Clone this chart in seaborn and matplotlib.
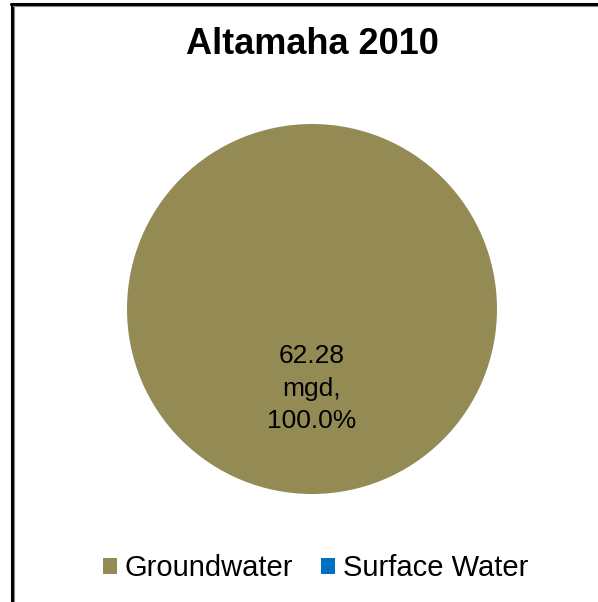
import matplotlib
matplotlib.use("Agg")
import matplotlib.pyplot as plt
from matplotlib.lines import Line2D
from matplotlib.patches import Patch
import seaborn as sns

sns.set_theme(style="white")
plt.rcParams["font.family"] = ["Liberation Sans", "DejaVu Sans"]
plt.rcParams["text.color"] = "black"

title = "Altamaha 2010"
categories = ["Groundwater", "Surface Water"]
values_mgd = [62.28, 0.0]
colors = ["#948A54", "#0070C0"]

fig = plt.figure(figsize=(5.98, 6.02), dpi=100)
fig.patch.set_facecolor("white")

# pie area
ax = fig.add_axes([127 / 598, 1 - 494 / 602, 370 / 598, 370 / 602])
total = sum(values_mgd)


def fmt(pct):
    val = pct * total / 100.0
    return f"{val:.2f}\nmgd,\n{pct:.1f}%"


wedges, texts, autotexts = ax.pie(
    values_mgd,
    colors=colors,
    startangle=90,
    counterclock=False,
    autopct=lambda p: fmt(p) if p > 0 else "",
    pctdistance=0.43,
    wedgeprops=dict(linewidth=0),
    textprops=dict(fontsize=19, color="black", linespacing=1.45),
)
ax.set_aspect("equal")
ax.set_xlim(-1, 1)
ax.set_ylim(-1, 1)

fig.text(312 / 598, 1 - 45 / 602, title, ha="center", va="center",
         fontsize=26, fontweight="bold", color="black")

handles = [Patch(facecolor=c, edgecolor="none") for c in colors]
leg = fig.legend(handles, categories, loc="center", bbox_to_anchor=(315.5 / 598, 1 - 568 / 602),
                 ncol=2, frameon=False, fontsize=21, handlelength=0.48, handleheight=0.48,
                 handletextpad=0.28, columnspacing=0.95)
for t in leg.get_texts():
    t.set_color("black")

# chart frame: left and top edges
fig.add_artist(Line2D([11.5 / 598, 11.5 / 598], [0, 1 - 4 / 602], color="black", linewidth=2.2))
fig.add_artist(Line2D([13.8 / 598, 13.8 / 598], [0, 1 - 6 / 602], color="#888888", linewidth=0.8))
fig.add_artist(Line2D([11 / 598, 1], [1 - 4 / 602, 1 - 4 / 602], color="black", linewidth=2.2))
fig.add_artist(Line2D([13 / 598, 1], [1 - 6.3 / 602, 1 - 6.3 / 602], color="#888888", linewidth=0.8))

fig.savefig("out.png", dpi=100, facecolor="white")
